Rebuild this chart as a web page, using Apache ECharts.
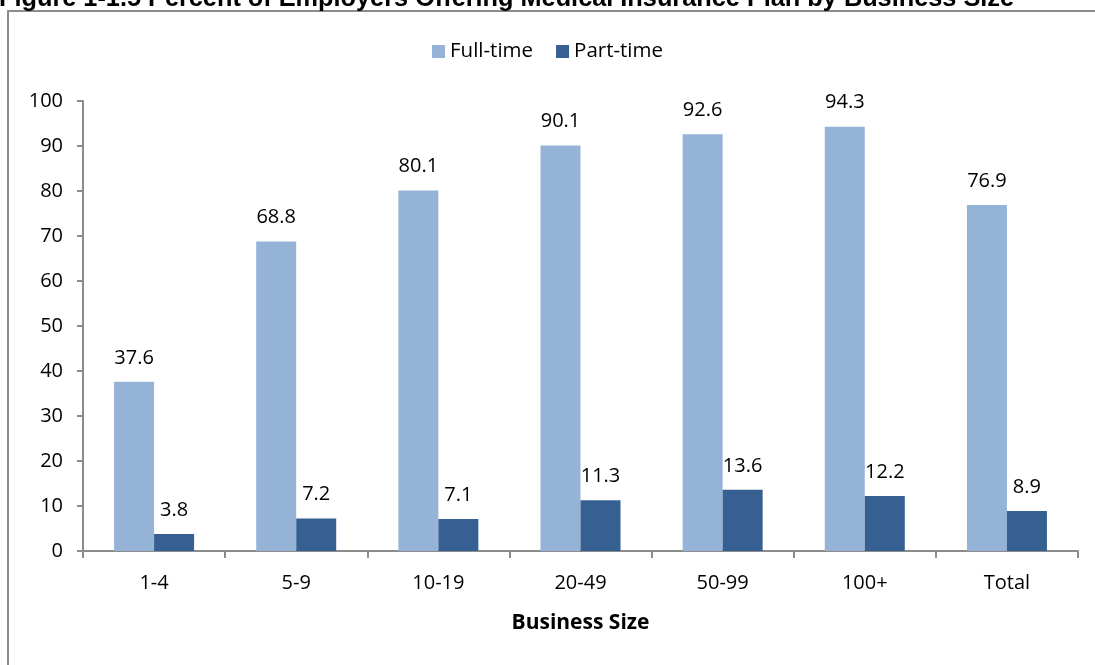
<!DOCTYPE html>
<html><head><meta charset="utf-8">
<script src="https://cdn.jsdelivr.net/npm/echarts@6/dist/echarts.min.js"></script>
<style>html,body{margin:0;padding:0;background:#fff;}#c{width:1095px;height:665px;}</style>
</head><body><div id="c"></div>
<script>
const categories = ['1-4','5-9','10-19','20-49','50-99','100+','Total'];
const fullTime = [37.6, 68.8, 80.1, 90.1, 92.6, 94.3, 76.9];
const partTime = [3.8, 7.2, 7.1, 11.3, 13.6, 12.2, 8.9];
const titleText = 'Figure 1-1.5 Percent of Employers Offering Medical Insurance Plan by Business Size';
const font = '"Open Sans", "Liberation Sans", sans-serif';
const chart = echarts.init(document.getElementById('c'));
chart.setOption({
  animation: false,
  graphic: [
    {type:'rect', shape:{x:8, y:11, width:1200, height:800}, style:{fill:'none', stroke:'#8c8c8c', lineWidth:2}},
    {type:'text', x:-1, y:-13, style:{text:titleText, font:'bold 25.3px "Liberation Sans", Arial, sans-serif', fill:'#000'}}
  ],
  legend: {
    top: 36, left: 'center', itemWidth: 13, itemHeight: 13, itemGap: 23,
    icon: 'rect',
    textStyle: {fontFamily: font, fontSize: 20.5, color: '#000'},
    data: ['Full-time','Part-time']
  },
  grid: {left: 83, right: 17, top: 101, bottom: 114, containLabel: false},
  xAxis: {
    type: 'category', data: categories,
    name: 'Business Size', nameLocation: 'middle', nameGap: 62,
    nameTextStyle: {fontFamily: font, fontSize: 21, fontWeight: 'bold', color: '#000'},
    axisLine: {lineStyle: {color: '#8c8c8c', width: 2}},
    axisTick: {show: true, length: 7, lineStyle: {color: '#8c8c8c', width: 2}},
    axisLabel: {fontFamily: font, fontSize: 20, color: '#000', margin: 22}
  },
  yAxis: {
    type: 'value', min: 0, max: 100, interval: 10,
    splitLine: {show: false},
    axisLine: {show: true, lineStyle: {color: '#8c8c8c', width: 2}},
    axisTick: {show: true, length: 6, lineStyle: {color: '#8c8c8c', width: 2}},
    axisLabel: {fontFamily: font, fontSize: 20, color: '#000', margin: 20}
  },
  series: [
    {name: 'Full-time', type: 'bar', data: fullTime, barWidth: 40, barGap: '0%',
     itemStyle: {color: '#95B3D7'},
     label: {show: true, position: 'top', distance: 14, fontFamily: font, fontSize: 20, color: '#000', formatter: p => p.value.toFixed(1)}},
    {name: 'Part-time', type: 'bar', data: partTime, barWidth: 40, barGap: '0%',
     itemStyle: {color: '#376092'},
     label: {show: true, position: 'top', distance: 14, fontFamily: font, fontSize: 20, color: '#000', formatter: p => p.value.toFixed(1)}}
  ]
});
</script></body></html>
